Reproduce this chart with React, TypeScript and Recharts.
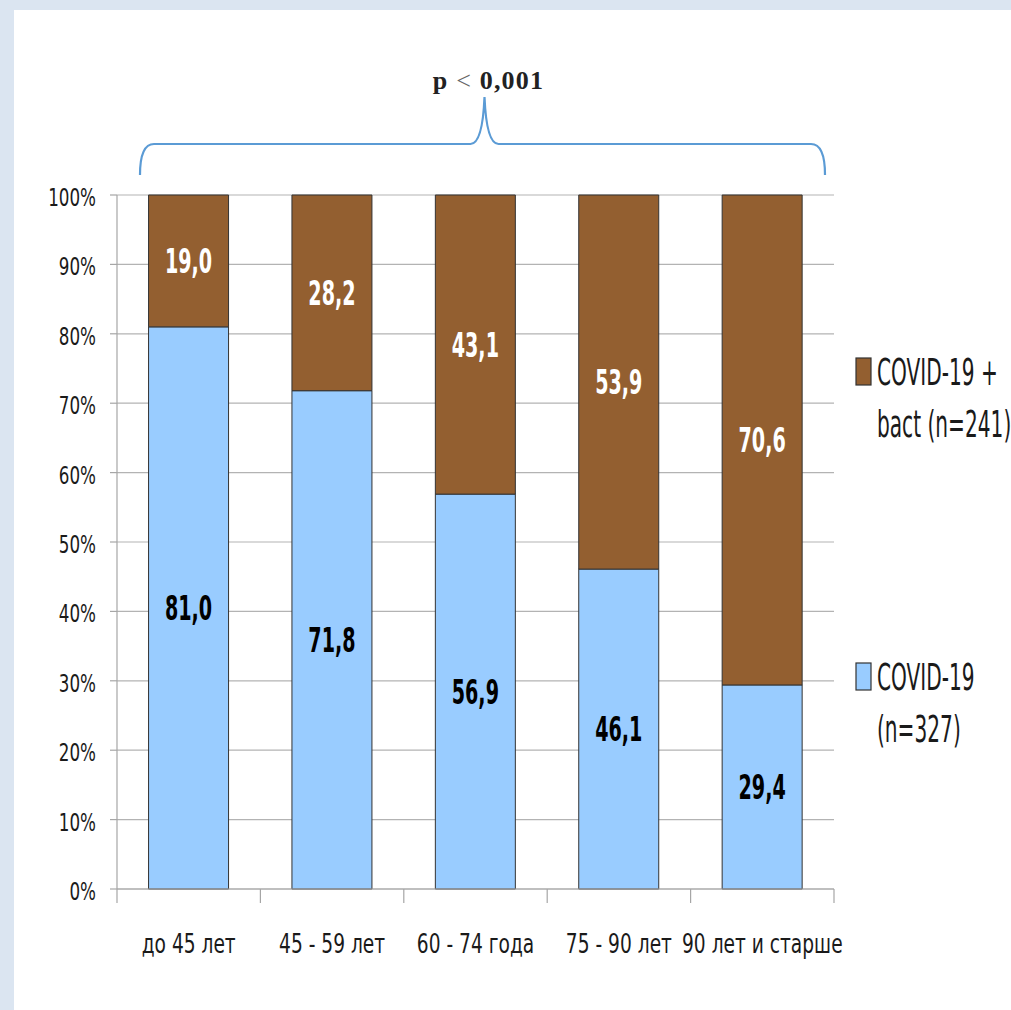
import React from "react";
import { BarChart, Bar, XAxis, YAxis, CartesianGrid, LabelList, Customized, usePlotArea } from "recharts";

const categories = ["до 45 лет", "45 - 59 лет", "60 - 74 года", "75 - 90 лет", "90 лет и старше"];
const covidOnly = [81.0, 71.8, 56.9, 46.1, 29.4];
const covidBact = [19.0, 28.2, 43.1, 53.9, 70.6];
const yTicks = [0, 10, 20, 30, 40, 50, 60, 70, 80, 90, 100];
const legendBact = ["COVID-19 +", "bact (n=241)"];
const legendCovid = ["COVID-19", "(n=327)"];
const pParts = ["p", "<", "0,001"];

const data = categories.map((c, i) => ({ cat: c, covid: covidOnly[i], bact: covidBact[i] }));

const FONT = "'DejaVu Sans', sans-serif";
const BLUE = "#99ccff";
const BROWN = "#935f30";

const fmt = (v: any) => Number(v).toFixed(1).replace(".", ",");

const NarrowText = ({ x, y, anchor, size, weight, fill, sx, children }: any) => (
  <g transform={`translate(${x},${y}) scale(${sx},1)`}>
    <text x={0} y={0} textAnchor={anchor} fontFamily={FONT} fontSize={size} fontWeight={weight} fill={fill}>
      {children}
    </text>
  </g>
);

const XTick = (props: any) => {
  const { x, y, payload, index } = props;
  const half = payload && payload.offset ? payload.offset : 71.7;
  return (
    <g>
      <line x1={x - half} x2={x - half} y1={y - 8} y2={y + 6} stroke="#a6a6a6" strokeWidth={1.2} />
      {index === categories.length - 1 && (
        <line x1={x + half} x2={x + half} y1={y - 8} y2={y + 6} stroke="#a6a6a6" strokeWidth={1.2} />
      )}
      <NarrowText x={x} y={y + 56} anchor="middle" size={27} sx={0.69} weight="normal" fill="#1a1a1a">
        {payload.value}
      </NarrowText>
    </g>
  );
};

const YTick = (props: any) => {
  const { x, y, payload } = props;
  return (
    <NarrowText x={x} y={y + 11} anchor="end" size={25} sx={0.67} weight="normal" fill="#1a1a1a">
      {`${payload.value}%`}
    </NarrowText>
  );
};

const makeLabel = (color: string) => (props: any) => {
  const { x, y, width, height, value } = props;
  return (
    <NarrowText x={x + width / 2} y={y + height / 2 + 12} anchor="middle" size={33} sx={0.58} weight="bold" fill={color}>
      {fmt(value)}
    </NarrowText>
  );
};

const Brace = () => {
  const area: any = usePlotArea();
  if (!area) return null;
  const l = area.x + 23;
  const r = area.x + area.width - 9;
  const mid = (l + r) / 2 + 2;
  const top = area.y - 51;
  const bot = area.y - 20;
  const peak = area.y - 98;
  const d = `M${l},${bot} Q${l},${top} ${l + 14},${top} L${mid - 14},${top} Q${mid - 2},${top} ${mid},${peak} Q${mid + 2},${top} ${mid + 14},${top} L${r - 14},${top} Q${r},${top} ${r},${bot}`;
  return (
    <g>
      <path d={d} fill="none" stroke="#5b9bd5" strokeWidth={2.2} />
      <text x={mid + 4} y={area.y - 106} textAnchor="middle" fontFamily="'Liberation Serif', 'DejaVu Serif', serif" fontWeight="bold" fontSize={26} fill="#222" letterSpacing={1.2}>
        <tspan>{pParts[0]} </tspan>
        <tspan fontWeight="normal" fill="#666">{pParts[1]}</tspan>
        <tspan> {pParts[2]}</tspan>
      </text>
    </g>
  );
};

const LegendBlock = ({ color, lines, top }: any) => (
  <g>
    <rect x={856} y={top - 27} width={15} height={27} fill={color} stroke="#333" strokeWidth={1.2} />
    {lines.map((t: string, i: number) => (
      <NarrowText key={i} x={877} y={top + i * 52} anchor="start" size={38} sx={0.53} weight="normal" fill="#1a1a1a">
        {t}
      </NarrowText>
    ))}
  </g>
);

export default function App() {
  return (
    <div style={{ position: "absolute", left: 0, top: 0, width: 1011, height: 1010, background: "#dbe5f1", overflow: "hidden" }}>
      <div style={{ position: "absolute", left: 14, top: 10, width: 997, height: 1000, background: "#ffffff" }} />
      <div style={{ position: "absolute", left: 0, top: 0 }}>
        <BarChart width={1011} height={1010} data={data} margin={{ top: 195, right: 177, bottom: 61, left: 57 }} barCategoryGap="22%">
          <CartesianGrid horizontal={true} vertical={false} stroke="#b3b3b3" strokeWidth={1.2} />
          <XAxis dataKey="cat" height={60} axisLine={{ stroke: "#a6a6a6", strokeWidth: 1.2 }} tickLine={false} tick={<XTick />} interval={0} />
          <YAxis
            width={60}
            domain={[0, 100]}
            ticks={yTicks}
            axisLine={{ stroke: "#a6a6a6", strokeWidth: 1.2 }}
            tickLine={{ stroke: "#a6a6a6", strokeWidth: 1.2 }}
            tickSize={7}
            tick={<YTick />}
            tickMargin={14}
          />
          <Bar dataKey="covid" stackId="a" fill={BLUE} stroke="#333" strokeWidth={1} isAnimationActive={false}>
            <LabelList dataKey="covid" content={makeLabel("#000")} />
          </Bar>
          <Bar dataKey="bact" stackId="a" fill={BROWN} stroke="#333" strokeWidth={1} isAnimationActive={false}>
            <LabelList dataKey="bact" content={makeLabel("#fff")} />
          </Bar>
          <Customized component={Brace} />
          <Customized component={() => (
            <g>
              <LegendBlock color={BROWN} lines={legendBact} top={385} />
              <LegendBlock color={BLUE} lines={legendCovid} top={690} />
            </g>
          )} />
        </BarChart>
      </div>
    </div>
  );
}
